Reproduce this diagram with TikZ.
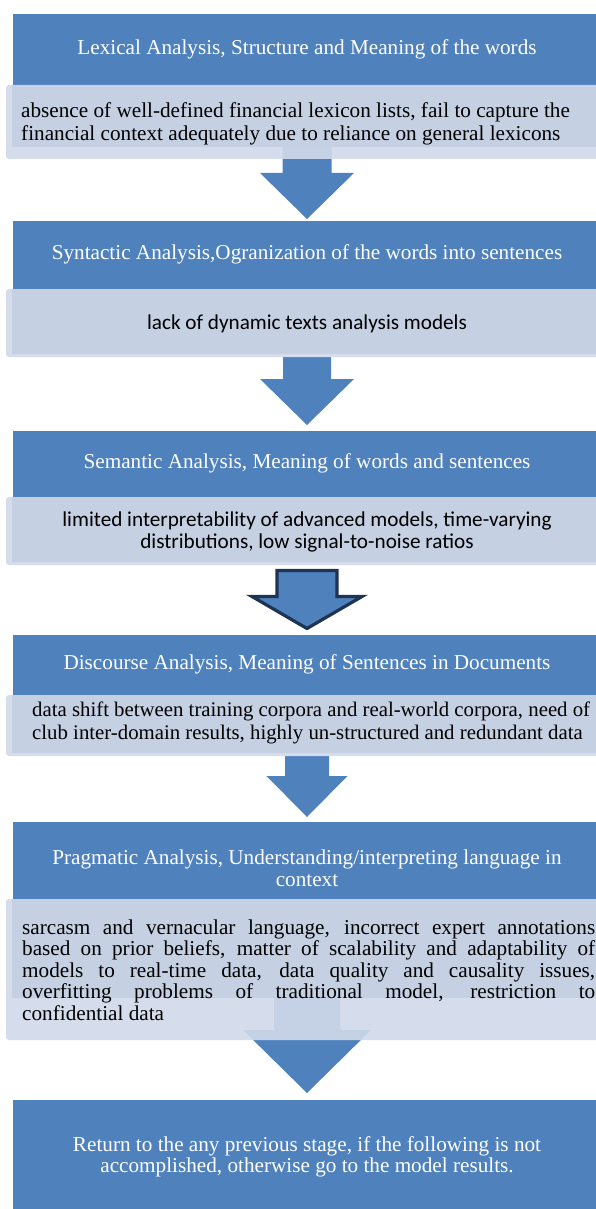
\documentclass[tikz,border=0pt]{standalone}
\usepackage{fontspec}
\setmainfont{Liberation Serif}
\newfontfamily\calibri{Carlito}
\usetikzlibrary{calc}
\pgfdeclarelayer{bg}
\pgfsetlayers{bg,main}
\definecolor{hdrblue}{RGB}{79,129,189}
\definecolor{paneltr}{RGB}{209,217,233}
\definecolor{panelmain}{RGB}{197,208,227}
\definecolor{navyline}{RGB}{30,52,82}
% #1 start coordinate, #2 tip coordinate, #3 shaft half width, #4 head half width, #5 head height, #6 style
\newcommand\blockarrow[6]{%
  \path[#6] ($(#2|-#1)+(-#3,0)$) -- ($(#2)+(-#3,-#5)$) -- ($(#2)+(-#4,-#5)$) -- (#2)
    -- ($(#2)+(#4,-#5)$) -- ($(#2)+(#3,-#5)$) -- ($(#2|-#1)+(#3,0)$) -- cycle;}
\begin{document}
\begin{tikzpicture}[x=1pt,y=-1pt,
  hdr/.style={fill=hdrblue, draw=white, line width=0.6pt, inner sep=0pt, outer sep=0pt,
    anchor=north west, minimum width=590pt},
  pnl/.style={fill=paneltr, fill opacity=0.91, rounded corners=3pt, inner sep=0pt, outer sep=0pt,
    anchor=north west, minimum width=600pt},
  pnltext/.style={fill=panelmain, inner sep=0pt, outer sep=0pt, anchor=north west, minimum width=600pt},
  htxt/.style={text=white, font=\fontsize{21.2}{22.5}\selectfont, align=center, inner sep=0pt},
  btxt/.style={text=black, font=\fontsize{21.2}{23}\selectfont, inner sep=0pt},
  ctxt/.style={text=black, font=\calibri\fontsize{21.2}{22.5}\selectfont, inner sep=0pt},
  barrow/.style={fill=hdrblue},
  oarrow/.style={fill=hdrblue, draw=navyline, line width=3.2pt, line join=miter},
]
\useasboundingbox (0,0) rectangle (596,1209);
\clip (0,0) rectangle (596,1209);

% stage 1
\node[hdr, minimum height=72pt] (h1) at (12,13) {};
\node[pnl, minimum height=74pt] (p1) at (6,85) {};
\node[pnltext, minimum height=62pt] (t1) at (12,85) {};
% stage 2
\node[hdr, minimum height=69pt] (h2) at (12,220) {};
\node[pnl, minimum height=68pt] (p2) at (6,289) {};
\node[pnltext, minimum height=65pt] (t2) at (12,289) {};
% stage 3
\node[hdr, minimum height=67pt] (h3) at (12,430) {};
\node[pnl, minimum height=68pt] (p3) at (6,497) {};
\node[pnltext, minimum height=65pt] (t3) at (12,497) {};
% stage 4
\node[hdr, minimum height=61pt] (h4) at (12,634) {};
\node[pnl, minimum height=61pt] (p4) at (6,695) {};
\node[pnltext, minimum height=58pt] (t4) at (12,695) {};
% stage 5
\node[hdr, minimum height=78pt] (h5) at (12,821) {};
\node[pnl, minimum height=141pt] (p5) at (6,899) {};
\node[pnltext, minimum height=99pt] (t5) at (12,899) {};
% stage 6
\node[hdr, minimum height=112pt] (h6) at (12,1099) {};

% arrow end points
\coordinate (a1s) at ($(t1.south)$);
\coordinate (a1t) at ($(h2.north)+(0,-1)$);
\coordinate (a2s) at ($(p2.south)$);
\coordinate (a2t) at ($(h3.north)+(0,-5)$);
\coordinate (a3s) at ($(p3.south)+(0,5.5)$);
\coordinate (a3t) at ($(h4.north)+(0,-5.5)$);
\coordinate (a4s) at ($(p4.south)$);
\coordinate (a4t) at ($(h5.north)+(0,-4)$);
\coordinate (a5s) at ($(t5.south)$);
\coordinate (a5t) at ($(h6.north)+(0,-6)$);

\begin{pgfonlayer}{bg}
  \blockarrow{a1s}{a1t}{24.5}{47}{46}{barrow}
  \blockarrow{a2s}{a2t}{24}{47}{46}{barrow}
  \blockarrow{a3s}{a3t}{30}{55}{32}{oarrow}
  \blockarrow{a4s}{a4t}{22}{40.5}{41}{barrow}
  \blockarrow{a5s}{a5t}{33}{64}{63}{barrow}
\end{pgfonlayer}

% texts
\node[htxt] (h1t) at (h1.center) {Lexical Analysis, Structure and Meaning of the words};
\node[btxt, anchor=west, align=left] (p1t) at (21,123.5)
  {absence of well-defined financial lexicon lists, fail to capture the\\
   financial context adequately due to reliance on general lexicons};

\node[htxt] (h2t) at (h2.center) {Syntactic Analysis,Ogranization of the words into sentences};
\node[ctxt] (p2t) at (307,324) {lack of dynamic texts analysis models};

\node[htxt] (h3t) at (h3.center) {Semantic Analysis, Meaning of words and sentences};
\node[ctxt, align=center] (p3t) at (307,532)
  {limited interpretability of advanced models, time-varying\\
   distributions, low signal-to-noise ratios};

\node[htxt] (h4t) at (h4.center) {Discourse Analysis, Meaning of Sentences in Documents};
\node[btxt, font=\fontsize{20.8}{23}\selectfont, anchor=west, align=left] (p4t) at (32,723)
  {data shift between training corpora and real-world corpora, need of\\
   club inter-domain results, highly un-structured and redundant data};

\node[htxt] (h5t) at (307,868) {Pragmatic Analysis, Understanding/interpreting language in\\context};
\node[btxt, font=\fontsize{21.2}{21.5}\selectfont, anchor=west, text width=573pt, align=justify] (p5t) at (22,970)
  {sarcasm and vernacular language, incorrect expert annotations\linebreak
   based on prior beliefs, matter of scalability and adaptability of\linebreak
   models to real-time data, data quality and causality issues,\linebreak
   overfitting problems of traditional model, restriction to\linebreak
   confidential data};

\node[htxt, font=\fontsize{21.2}{21}\selectfont] (h6t) at (307,1157)
  {Return to the any previous stage, if the following is not\\
   accomplished, otherwise go to the model results.};
\end{tikzpicture}
\end{document}
